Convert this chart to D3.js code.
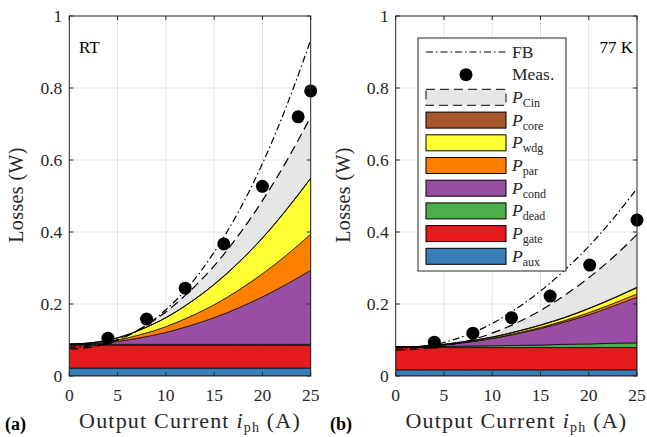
<!DOCTYPE html>
<html>
<head>
<meta charset="utf-8">
<script src="https://cdn.jsdelivr.net/npm/d3@7"></script>
<style>
  body { margin: 0; background: #fff; }
  svg { display: block; font-family: "Liberation Serif", "DejaVu Serif", serif; }
</style>
</head>
<body>
<svg id="chart" width="647" height="437"></svg>
<script>
// output current grid (A)
const current = [0, 2.5, 5, 7.5, 10, 12.5, 15, 17.5, 20, 22.5, 25];

// room temperature (RT) loss breakdown (W)
const rtAux  = [0.022, 0.022, 0.022, 0.022, 0.022, 0.022, 0.022, 0.022, 0.022, 0.022, 0.022];
const rtGate = [0.063, 0.063, 0.063, 0.063, 0.063, 0.063, 0.063, 0.063, 0.063, 0.063, 0.063];
const rtDead = [0.003, 0.003, 0.003, 0.003, 0.003, 0.003, 0.003, 0.003, 0.003, 0.003, 0.003];
const rtCond = [0, 0.002, 0.008, 0.019, 0.033, 0.052, 0.074, 0.101, 0.132, 0.167, 0.206];
const rtPar  = [0, 0.001, 0.004, 0.009, 0.016, 0.025, 0.036, 0.049, 0.064, 0.081, 0.100];
const rtWdg  = [0, 0.002, 0.006, 0.014, 0.025, 0.039, 0.056, 0.076, 0.099, 0.126, 0.155];
const rtCore = [0, 0, 0, 0, 0, 0, 0.001, 0.001, 0.001, 0.001, 0.001];
const rtModel = [0.075, 0.081, 0.100, 0.133, 0.178, 0.236, 0.306, 0.390, 0.487, 0.597, 0.720];
const rtFB    = [0.080, 0.084, 0.101, 0.133, 0.184, 0.253, 0.344, 0.455, 0.590, 0.750, 0.933];
const rtMeasI = [4, 8, 12, 16, 20, 23.7, 25];
const rtMeasP = [0.105, 0.158, 0.244, 0.367, 0.527, 0.720, 0.792];

// 77 K loss breakdown (W)
const lnAux  = [0.017, 0.017, 0.017, 0.017, 0.017, 0.017, 0.017, 0.017, 0.017, 0.017, 0.017];
const lnGate = [0.062, 0.062, 0.062, 0.062, 0.062, 0.062, 0.062, 0.062, 0.062, 0.062, 0.062];
const lnDead = [0.002, 0.002, 0.003, 0.004, 0.005, 0.006, 0.007, 0.009, 0.010, 0.012, 0.013];
const lnCond = [0, 0.001, 0.005, 0.011, 0.020, 0.032, 0.046, 0.062, 0.081, 0.103, 0.127];
const lnPar  = [0, 0, 0, 0.001, 0.001, 0.002, 0.003, 0.004, 0.006, 0.007, 0.009];
const lnWdg  = [0, 0, 0.001, 0.002, 0.003, 0.004, 0.006, 0.008, 0.011, 0.014, 0.017];
const lnCore = [0, 0, 0, 0, 0, 0.001, 0.001, 0.001, 0.001, 0.001, 0.002];
const lnModel = [0.072, 0.075, 0.083, 0.098, 0.119, 0.147, 0.182, 0.224, 0.273, 0.329, 0.393];
const lnFB    = [0.075, 0.079, 0.093, 0.115, 0.146, 0.187, 0.236, 0.294, 0.360, 0.436, 0.521];
const lnMeasI = [4, 8, 12, 16, 20.1, 25];
const lnMeasP = [0.094, 0.119, 0.162, 0.222, 0.308, 0.433];

const xTicks = [0, 5, 10, 15, 20, 25];
const yTicks = [0, 0.2, 0.4, 0.6, 0.8, 1];
const layerKeys = ["aux", "gate", "dead", "cond", "par", "wdg", "core"];
const layerColors = { aux: "#377eb8", gate: "#e41a1c", dead: "#4daf4a", cond: "#984ea3",
                      par: "#ff7f00", wdg: "#ffff33", core: "#a65628" };
const cinColor = "#e6e6e6";

const svg = d3.select("#chart");

function drawPanel(p) {
  const x = d3.scaleLinear().domain([0, 25]).range([p.x0, p.x1]);
  const y = d3.scaleLinear().domain([0, 1]).range([376, 16]);
  const g = svg.append("g");

  g.append("clipPath").attr("id", "clip" + p.id)
    .append("rect").attr("x", p.x0).attr("y", 16).attr("width", p.x1 - p.x0).attr("height", 360);

  // grid
  g.selectAll(".gx").data(xTicks.slice(1, -1)).join("line")
    .attr("x1", d => x(d)).attr("x2", d => x(d)).attr("y1", y(0)).attr("y2", y(1))
    .attr("stroke", "#e3e3e3").attr("stroke-width", 1);
  g.selectAll(".gy").data(yTicks.slice(1, -1)).join("line")
    .attr("y1", d => y(d)).attr("y2", d => y(d)).attr("x1", p.x0).attr("x2", p.x1)
    .attr("stroke", "#e3e3e3").attr("stroke-width", 1);

  const rows = current.map((c, i) => {
    const r = { i: c };
    layerKeys.forEach(k => r[k] = p.layers[k][i]);
    r.model = p.model[i];
    r.fb = p.fb[i];
    return r;
  });
  const series = d3.stack().keys(layerKeys)(rows);
  const plot = g.append("g").attr("clip-path", "url(#clip" + p.id + ")");

  // P_Cin: gap between stacked losses and the model total
  plot.append("path").datum(series[series.length - 1])
    .attr("fill", cinColor)
    .attr("d", d3.area().curve(d3.curveMonotoneX)
      .x(d => x(d.data.i)).y0(d => y(d[1])).y1(d => y(Math.max(d[1], d.data.model))));

  plot.selectAll(".layer").data(series).join("path")
    .attr("fill", d => layerColors[d.key])
    .attr("stroke", "#000").attr("stroke-width", 0.7)
    .attr("d", d3.area().curve(d3.curveMonotoneX)
      .x(d => x(d.data.i)).y0(d => y(d[0])).y1(d => y(d[1])));

  plot.append("path").datum(rows)
    .attr("fill", "none").attr("stroke", "#000").attr("stroke-width", 1.2)
    .attr("stroke-dasharray", "9,5")
    .attr("d", d3.line().curve(d3.curveMonotoneX).x(d => x(d.i)).y(d => y(d.model)));
  plot.append("path").datum(rows)
    .attr("fill", "none").attr("stroke", "#000").attr("stroke-width", 1.2)
    .attr("stroke-dasharray", "7,3,1.5,3")
    .attr("d", d3.line().curve(d3.curveMonotoneX).x(d => x(d.i)).y(d => y(d.fb)));

  g.selectAll(".meas").data(p.measI).join("circle")
    .attr("cx", d => x(d)).attr("cy", (d, i) => y(p.measP[i])).attr("r", 6.5)
    .attr("fill", "#000");

  // axes box with inward ticks on all sides
  const axCol = "#262626";
  g.append("rect").attr("x", p.x0).attr("y", 16).attr("width", p.x1 - p.x0).attr("height", 360)
    .attr("fill", "none").attr("stroke", axCol).attr("stroke-width", 1);
  const tl = 4;
  xTicks.forEach(t => {
    g.append("line").attr("x1", x(t)).attr("x2", x(t)).attr("y1", y(0)).attr("y2", y(0) - tl).attr("stroke", axCol);
    g.append("line").attr("x1", x(t)).attr("x2", x(t)).attr("y1", y(1)).attr("y2", y(1) + tl).attr("stroke", axCol);
  });
  yTicks.forEach(t => {
    g.append("line").attr("y1", y(t)).attr("y2", y(t)).attr("x1", p.x0).attr("x2", p.x0 + tl).attr("stroke", axCol);
    g.append("line").attr("y1", y(t)).attr("y2", y(t)).attr("x1", p.x1).attr("x2", p.x1 - tl).attr("stroke", axCol);
  });

  g.selectAll(".xt").data(xTicks).join("text")
    .attr("x", d => x(d)).attr("y", 401).attr("text-anchor", "middle")
    .attr("font-size", 17.5).attr("fill", axCol).text(d => d);
  g.selectAll(".yt").data(yTicks).join("text")
    .attr("x", p.x0 - 7).attr("y", d => y(d) + 6).attr("text-anchor", "end")
    .attr("font-size", 17.5).attr("fill", axCol).text(d => d);

  const xl = g.append("text").attr("x", (p.x0 + p.x1) / 2).attr("y", 428)
    .attr("text-anchor", "middle").attr("font-size", 22).attr("fill", axCol)
    .attr("letter-spacing", 1.2);
  xl.append("tspan").text("Output Current ");
  xl.append("tspan").attr("font-style", "italic").text("i");
  xl.append("tspan").attr("font-size", 14).attr("dy", 4).text("ph");
  xl.append("tspan").attr("dy", -4).text(" (A)");

  g.append("text").attr("transform", `translate(${p.x0 - 46},195) rotate(-90)`)
    .attr("text-anchor", "middle").attr("font-size", 20).attr("fill", axCol)
    .attr("letter-spacing", 0.4)
    .text("Losses (W)");

  g.append("text").attr("x", p.tagX).attr("y", 430).attr("font-size", 18)
    .attr("font-weight", "bold").text(p.tag);

  g.append("text").attr("x", p.labelX).attr("y", 52.5).attr("font-size", 17)
    .attr("text-anchor", p.labelAnchor).text(p.label);
}

drawPanel({ id: "a", x0: 69.3, x1: 310.7, tag: "(a)", tagX: 5, label: "RT", labelX: 79, labelAnchor: "start",
  layers: { aux: rtAux, gate: rtGate, dead: rtDead, cond: rtCond, par: rtPar, wdg: rtWdg, core: rtCore },
  model: rtModel, fb: rtFB, measI: rtMeasI, measP: rtMeasP });
drawPanel({ id: "b", x0: 395.7, x1: 637, tag: "(b)", tagX: 330, label: "77 K", labelX: 633, labelAnchor: "end",
  layers: { aux: lnAux, gate: lnGate, dead: lnDead, cond: lnCond, par: lnPar, wdg: lnWdg, core: lnCore },
  model: lnModel, fb: lnFB, measI: lnMeasI, measP: lnMeasP });

// legend (panel b)
const legendItems = [
  { type: "fb", label: "FB" },
  { type: "meas", label: "Meas." },
  { type: "cin", sub: "Cin" },
  { type: "core", sub: "core" },
  { type: "wdg", sub: "wdg" },
  { type: "par", sub: "par" },
  { type: "cond", sub: "cond" },
  { type: "dead", sub: "dead" },
  { type: "gate", sub: "gate" },
  { type: "aux", sub: "aux" }
];
const lg = svg.append("g");
lg.append("rect").attr("x", 418).attr("y", 38).attr("width", 148).attr("height", 233)
  .attr("fill", "#fff").attr("stroke", "#262626").attr("stroke-width", 1);
legendItems.forEach((d, i) => {
  const cy = 52 + i * 22.7;
  if (d.type === "fb") {
    lg.append("line").attr("x1", 426).attr("x2", 506).attr("y1", cy).attr("y2", cy)
      .attr("stroke", "#000").attr("stroke-width", 1.2).attr("stroke-dasharray", "7,3,1.5,3");
  } else if (d.type === "meas") {
    lg.append("circle").attr("cx", 466).attr("cy", cy).attr("r", 6.5).attr("fill", "#000");
  } else if (d.type === "cin") {
    lg.append("rect").attr("x", 426).attr("y", cy - 8).attr("width", 80).attr("height", 16)
      .attr("fill", cinColor).attr("stroke", "#333").attr("stroke-width", 1.2).attr("stroke-dasharray", "9,5");
  } else {
    lg.append("rect").attr("x", 426).attr("y", cy - 8).attr("width", 80).attr("height", 16)
      .attr("fill", layerColors[d.type]).attr("stroke", "#000").attr("stroke-width", 1);
  }
  const t = lg.append("text").attr("x", 512).attr("y", cy + 5.5).attr("font-size", 17.5).attr("fill", "#262626");
  if (d.label) {
    t.text(d.label);
  } else {
    t.append("tspan").attr("font-style", "italic").text("P");
    t.append("tspan").attr("font-size", 12).attr("dy", 4).text(d.sub);
  }
});
</script>
</body>
</html>
